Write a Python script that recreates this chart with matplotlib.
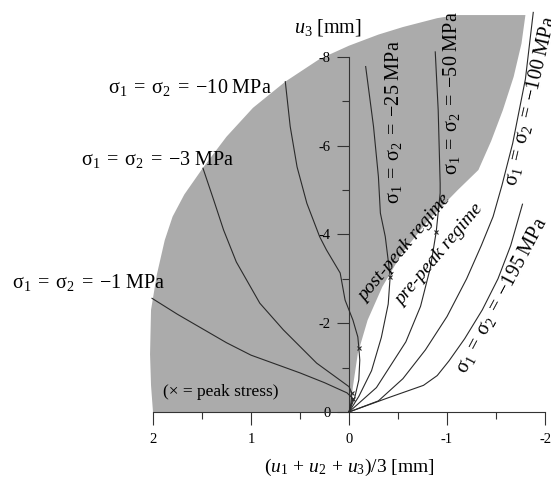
import matplotlib
matplotlib.use("Agg")
import matplotlib.pyplot as plt

plt.rcParams['font.family'] = ['Liberation Serif', 'DejaVu Serif']
plt.rcParams['mathtext.fontset'] = 'custom'
plt.rcParams['mathtext.rm'] = 'Liberation Serif'
plt.rcParams['mathtext.it'] = 'Liberation Serif:italic'
plt.rcParams['mathtext.bf'] = 'Liberation Serif:bold'
plt.rcParams['axes.unicode_minus'] = False

# Post-peak region outline (grey), x = mean displacement, y = u3, both in mm
region_x = [0.0, 2.0, 2.02, 2.03, 2.02, 1.96, 1.88, 1.80, 1.68, 1.49, 1.25, 0.98,
            0.65, 0.30, 0.0, -0.30, -0.55, -0.90, -1.10, -1.80, -1.76, -1.68,
            -1.57, -1.45, -1.32, -1.11, -0.81, -0.54, -0.34, -0.19, -0.09, -0.04,
            -0.02, 0.0]
region_y = [0.0, 0.0, -0.6, -1.3, -2.3, -3.1, -3.87, -4.4, -4.9, -5.5, -6.2, -6.85,
            -7.44, -7.95, -8.25, -8.5, -8.67, -8.87, -8.94, -8.94, -8.3, -7.55,
            -6.8, -6.1, -5.45, -5.0, -4.32, -3.57, -2.82, -2.07, -1.32, -0.57,
            -0.2, 0.0]

# sigma1 = sigma2 = -1 MPa
p1_pre_x = [0.0, -0.02, -0.04]
p1_pre_y = [0.0, -0.15, -0.30]
p1_post_x = [-0.04, 0.02, 0.25, 0.50, 0.75, 1.0, 1.25, 1.5, 1.75, 2.01]
p1_post_y = [-0.30, -0.43, -0.66, -0.88, -1.08, -1.28, -1.56, -1.88, -2.2, -2.56]

# -3 MPa
p3_pre_x = [0.0, -0.02, -0.03]
p3_pre_y = [0.0, -0.2, -0.42]
p3_post_x = [-0.03, 0.0, 0.33, 0.67, 0.91, 1.15, 1.28, 1.38, 1.49]
p3_post_y = [-0.42, -0.57, -1.10, -1.85, -2.45, -3.38, -4.10, -4.77, -5.49]

# -10 MPa
p10_pre_x = [0.0, -0.06, -0.10, -0.11, -0.10]
p10_pre_y = [0.0, -0.34, -0.72, -1.17, -1.45]
p10_post_x = [-0.10, -0.09, -0.04, 0.04, 0.09, 0.23, 0.30, 0.43, 0.53, 0.60, 0.65]
p10_post_y = [-1.45, -1.69, -2.07, -2.52, -3.13, -3.65, -3.95, -4.70, -5.52, -6.43, -7.44]

# -25 MPa
p25_pre_x = [0.0, -0.10, -0.23, -0.33, -0.40, -0.42]
p25_pre_y = [0.0, -0.35, -0.93, -1.68, -2.43, -3.05]
p25_post_x = [-0.42, -0.37, -0.32, -0.30, -0.25, -0.17]
p25_post_y = [-3.05, -3.95, -4.48, -5.3, -6.43, -7.78]

# -50 MPa
p50_pre_x = [0.0, -0.28, -0.58, -0.73, -0.83, -0.89]
p50_pre_y = [0.0, -0.55, -1.58, -2.38, -3.25, -4.06]
p50_post_x = [-0.89, -0.93, -0.93, -0.91, -0.88]
p50_post_y = [-4.06, -4.93, -5.15, -6.80, -8.11]

# -100 and -195 MPa never reach the peak
p100_x = [0.0, -0.30, -0.55, -0.78, -1.0, -1.2, -1.35, -1.47, -1.56, -1.67, -1.80, -1.88]
p100_y = [0.0, -0.25, -0.75, -1.40, -2.15, -3.0, -3.75, -4.4, -5.1, -6.05, -7.5, -9.0]
p195_x = [0.0, -0.40, -0.76, -0.90, -1.02, -1.18, -1.36, -1.52, -1.65, -1.77]
p195_y = [0.0, -0.32, -0.60, -0.82, -1.15, -1.65, -2.3, -3.0, -3.75, -4.68]

xticks = [2, 1, 0, -1, -2]
xtick_labels = ["2", "1", "0", "-1", "-2"]
yticks = [0, -2, -4, -6, -8]
ytick_labels = ["0", "-2", "-4", "-6", "-8"]

fig = plt.figure(figsize=(5.51, 4.82), dpi=100)
ax = fig.add_axes([0, 0, 1, 1])
ax.set_xlim(3.561, -2.061)
ax.set_ylim(1.577, -9.279)

ax.fill(region_x, region_y, color='#ababab', lw=0, zorder=1)

line_kw = dict(color='#2a2a2a', lw=0.8, zorder=3)
for px, py, qx, qy in [(p1_pre_x, p1_pre_y, p1_post_x, p1_post_y),
                       (p3_pre_x, p3_pre_y, p3_post_x, p3_post_y),
                       (p10_pre_x, p10_pre_y, p10_post_x, p10_post_y),
                       (p25_pre_x, p25_pre_y, p25_post_x, p25_post_y),
                       (p50_pre_x, p50_pre_y, p50_post_x, p50_post_y)]:
    ax.plot(px, py, **line_kw)
    ax.plot(qx, qy, **line_kw)
    # peak stress marker
    ax.plot(px[-1], py[-1], marker='x', ms=3.5, mew=0.8, color='#2a2a2a', zorder=4)
ax.plot(p100_x, p100_y, **line_kw)
ax.plot(p195_x, p195_y, **line_kw)

# axes through the origin
for side in ['top', 'right']:
    ax.spines[side].set_visible(False)
ax.spines['left'].set_position(('data', 0))
ax.spines['bottom'].set_position(('data', 0))
ax.spines['left'].set_bounds(-8, 0)
ax.spines['bottom'].set_bounds(-2, 2)
for side in ['left', 'bottom']:
    ax.spines[side].set_color('#333333')
    ax.spines[side].set_linewidth(0.8)
    ax.spines[side].set_zorder(2)

ax.set_xticks(xticks, xtick_labels)
ax.set_xticks([1.5, 0.5, -0.5, -1.5], minor=True)
ax.set_yticks(yticks, ytick_labels)
ax.set_yticks([-1, -3, -5, -7], minor=True)
ax.tick_params(which='major', length=9, width=0.8, color='#333333', labelsize=10.5, pad=6)
ax.tick_params(which='minor', length=5, width=0.8, color='#333333')
ax.tick_params(axis='y', pad=4)
ax.set_facecolor('white')


def stress_label(value):
    return (r'$\mathrm{\sigma}_1\;=\;\mathrm{\sigma}_2\;=\;{-}%s\ \mathrm{MPa}$' % value)


fs = 14.5
ax.text(1.62, -7.30, stress_label('10'), fontsize=fs, ha='center', va='center')
ax.text(1.95, -5.68, stress_label('3'), fontsize=fs, ha='center', va='center')
ax.text(2.66, -2.91, stress_label('1'), fontsize=fs, ha='center', va='center')
ax.text(-0.45, -6.53, stress_label('25'), fontsize=fs,
        ha='center', va='center', rotation=90, rotation_mode='anchor')
ax.text(-1.05, -7.18, stress_label('50'), fontsize=fs,
        ha='center', va='center', rotation=90, rotation_mode='anchor')
ax.text(-1.85, -7.0, stress_label('100'), fontsize=fs,
        ha='center', va='center', rotation=77, rotation_mode='anchor')
ax.text(-1.56, -2.62, stress_label('195'), fontsize=fs,
        ha='center', va='center', rotation=62, rotation_mode='anchor')
ax.text(-0.57, -3.69, 'post-peak regime', style='italic', fontsize=14,
        ha='center', va='center', rotation=50, rotation_mode='anchor')
ax.text(-0.92, -3.54, 'pre-peak regime', style='italic', fontsize=14,
        ha='center', va='center', rotation=50, rotation_mode='anchor')
ax.text(1.31, -0.45, '(\u00d7 = peak stress)', fontsize=12.5, ha='center', va='center')

ax.text(0.0, 1.24, r'$(u_1\,+\,u_2\,+\,u_3)/3$ [mm]', fontsize=14, ha='center', va='center')
ax.text(0.21, -8.67, r'$u_3$ [mm]', fontsize=14.5, ha='center', va='center')

fig.savefig('out.png', dpi=100)
